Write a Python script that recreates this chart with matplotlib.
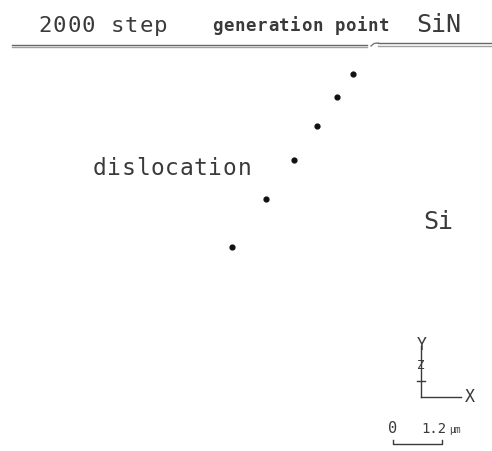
import matplotlib
matplotlib.use("Agg")
import matplotlib.pyplot as plt

# dislocation positions (image units, y grows downward)
dot_x = [353, 337, 317, 294, 266, 232]
dot_y = [75, 98, 127, 161, 200, 248]

title_text = "2000 step"
gen_text = "generation point"
film_text = "SiN"
sub_text = "Si"
disl_text = "dislocation"
scale_labels = ["0", "1.2", "μm"]

INK = "#3a3a3a"
FONT = "DejaVu Sans Mono"

fig = plt.figure(figsize=(4.92, 4.52), dpi=100)
ax = fig.add_axes([0, 0, 1, 1])
ax.set_xlim(0, 492)
ax.set_ylim(452, 0)
ax.axis("off")


def spaced(x0, base, s, size, adv, **kw):
    # one char at a time so the wide letter pitch of the original is kept
    for i, ch in enumerate(s):
        ax.text(x0 + (i + 0.5) * adv, base, ch, fontsize=size, family=FONT,
                color=INK, ha="center", va="baseline", **kw)


# surface line (SiN / Si interface), double thin gray lines
ax.plot([12, 367], [45.5, 45.5], color="#666666", lw=1.0)
ax.plot([12, 367], [48, 48], color="#a0a0a0", lw=1.0)
ax.plot([378, 492], [44, 44], color="#666666", lw=1.0)
ax.plot([378, 492], [47, 47], color="#a0a0a0", lw=1.0)
ax.plot([371, 374, 378], [47, 44.5, 44], color="#777777", lw=1.0)

# dislocations
ax.scatter(dot_x, dot_y, s=12, color="#111111", zorder=3)

spaced(38, 32, title_text, 16, 14.4)
spaced(212, 31, gen_text, 12.5, 11.1, fontweight="bold")
spaced(417, 32, film_text, 18, 14.3)
spaced(92, 175, disl_text, 16.5, 14.5)
spaced(424, 229, sub_text, 18, 14.3)

# coordinate axes symbol
ax.plot([421, 421], [347, 398], color=INK, lw=1.0)
ax.plot([421, 461], [398, 398], color=INK, lw=1.0)
ax.text(422, 345, "Y", fontsize=12, family=FONT, color=INK, ha="center", va="center")
ax.text(470, 397, "X", fontsize=12, family=FONT, color=INK, ha="center", va="center")
ax.text(421, 366, "Z", fontsize=9, family=FONT, color=INK, ha="center", va="center")
ax.plot([417, 425], [382, 382], color=INK, lw=1.0)

# scale bar
ax.text(393, 429, scale_labels[0], fontsize=11, family=FONT, color=INK, ha="center", va="center")
ax.text(446, 429, scale_labels[1], fontsize=10, family=FONT, color=INK, ha="right", va="center")
ax.text(449, 430, scale_labels[2], fontsize=7, family=FONT, color=INK, ha="left", va="center")
ax.plot([393, 393, 442, 442], [441, 445, 445, 441], color=INK, lw=1.0)

fig.savefig("out.png", dpi=100)
